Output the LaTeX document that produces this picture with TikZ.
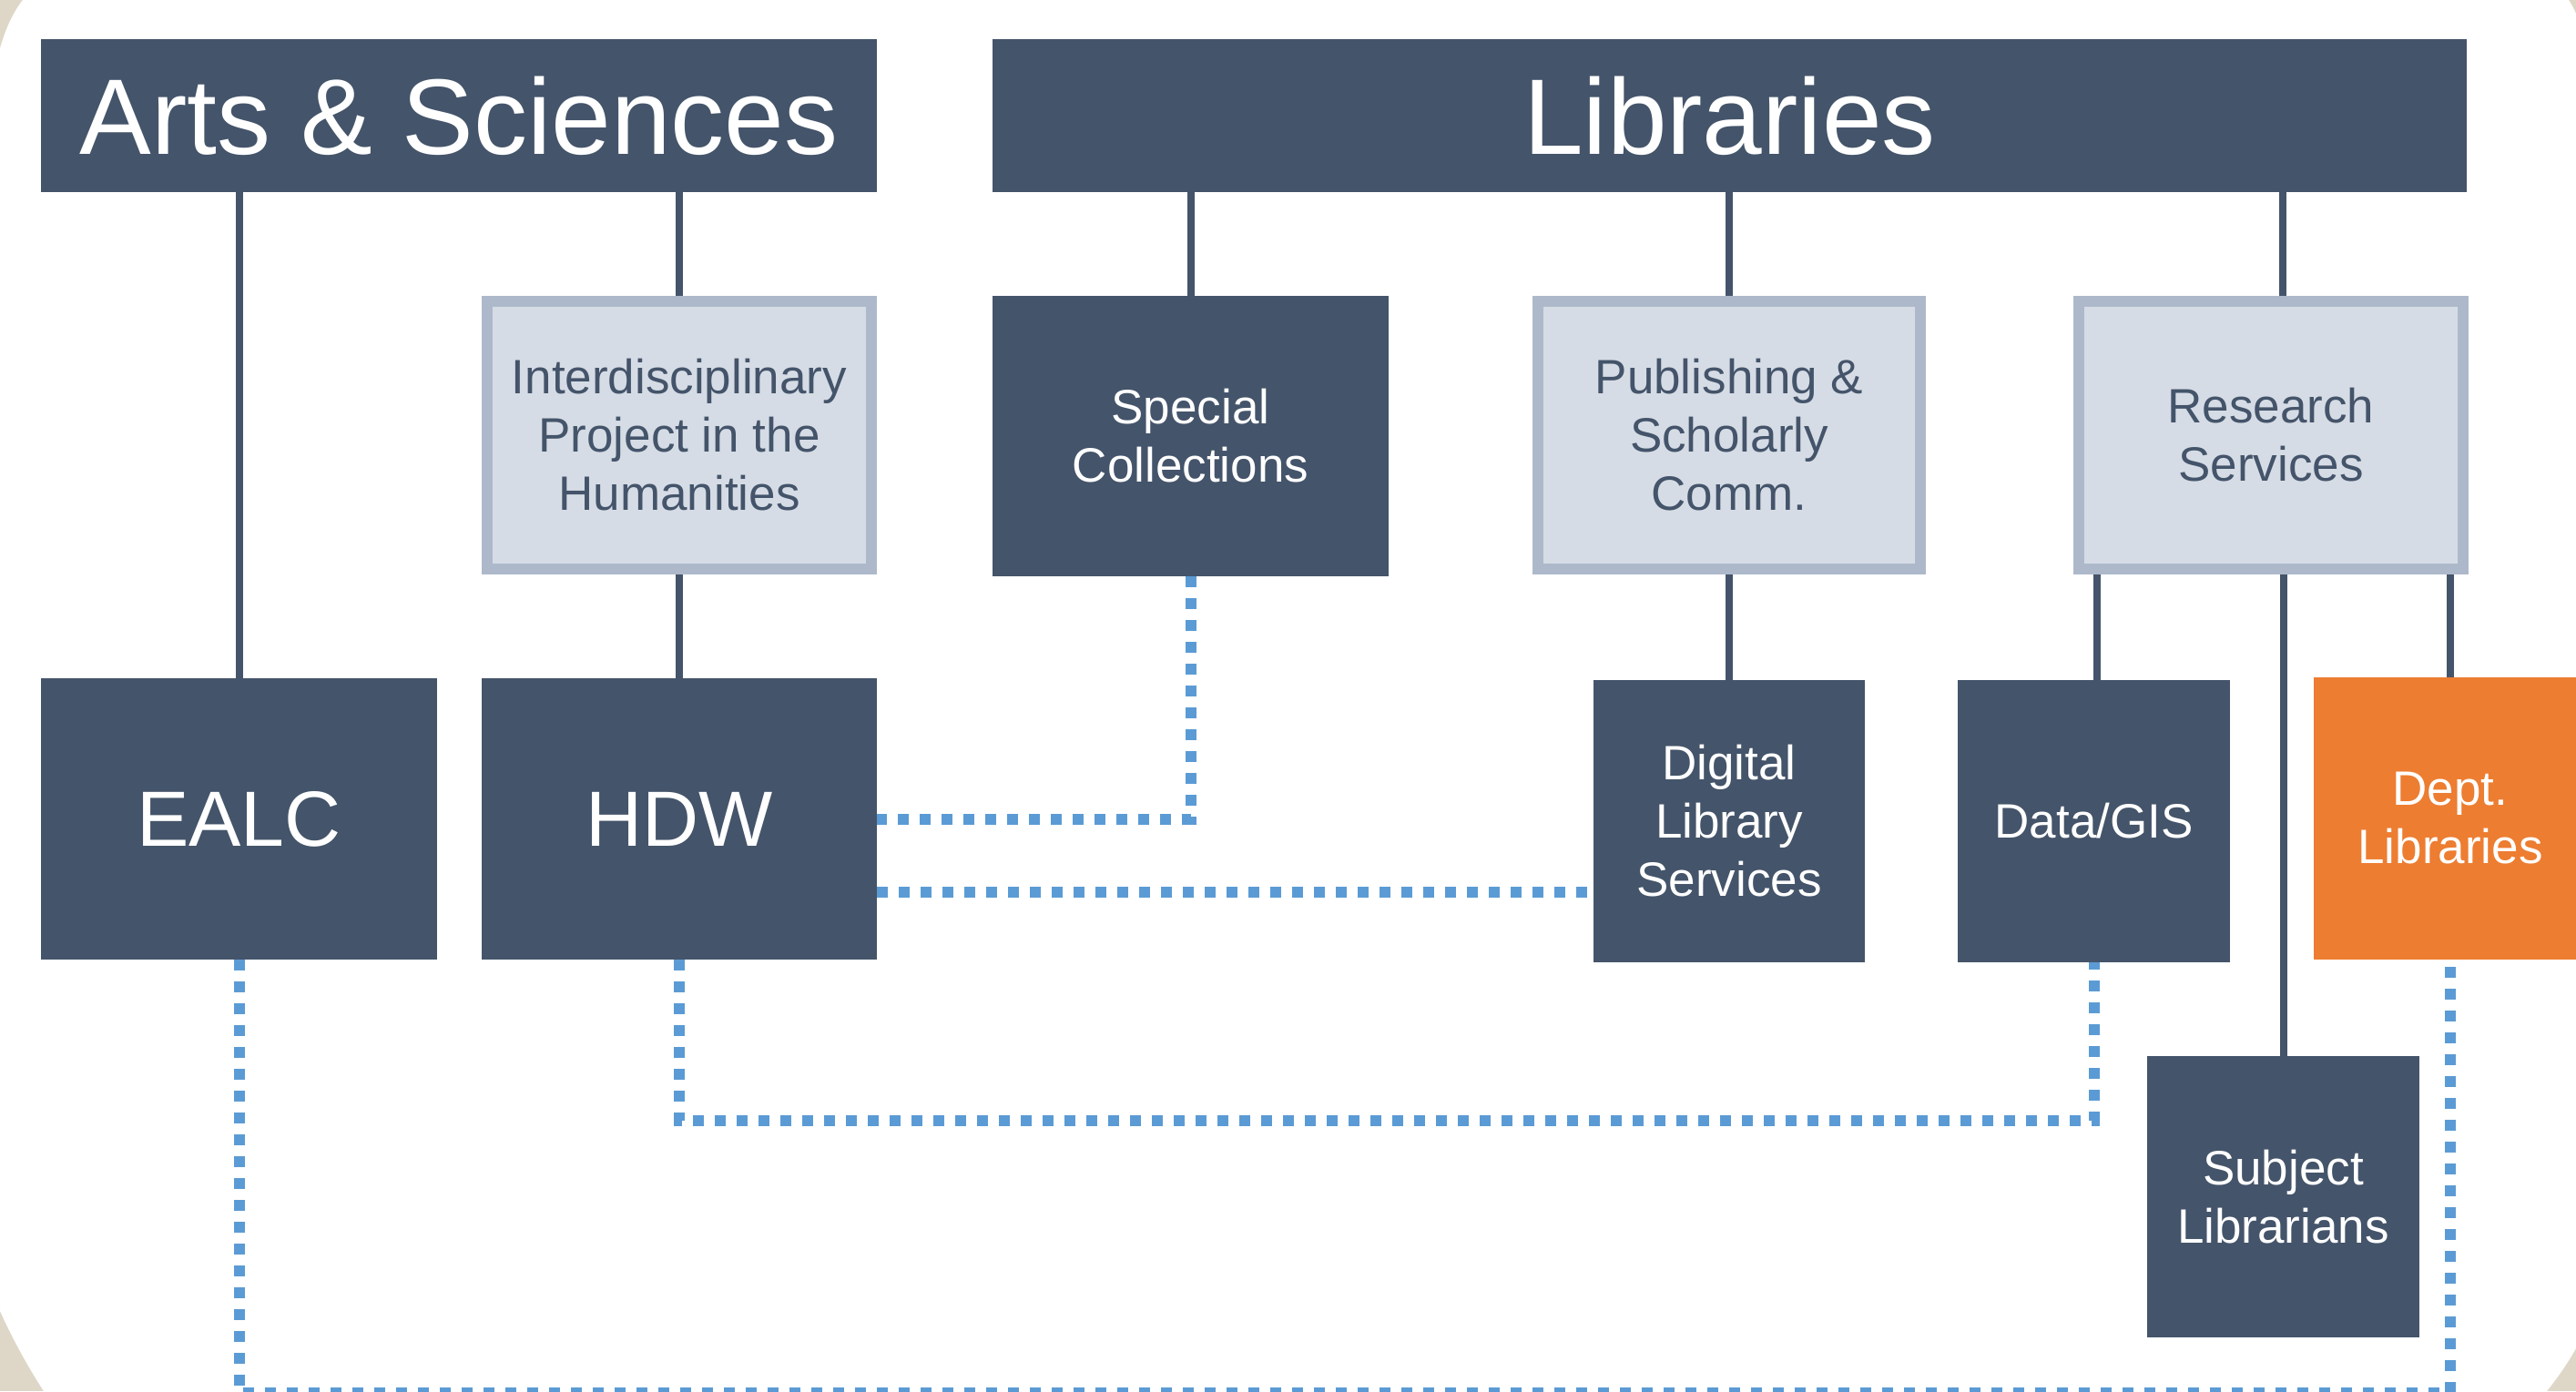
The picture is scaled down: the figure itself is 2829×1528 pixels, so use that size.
\documentclass[tikz,border=0pt]{standalone}
\usepackage{fontspec}
\setmainfont{Liberation Sans}
\usetikzlibrary{calc}
\pgfdeclarelayer{bg}
\pgfsetlayers{bg,main}
\definecolor{navy}{HTML}{44546A}
\definecolor{lightfill}{HTML}{D6DCE5}
\definecolor{lightedge}{HTML}{ADB9CA}
\definecolor{orng}{HTML}{ED7D31}
\definecolor{dotblue}{HTML}{5B9BD5}
\definecolor{beige}{HTML}{DED7C7}
\begin{document}
\begin{tikzpicture}[x=0.5pt,y=-0.5pt,
  darkbox/.style={fill=navy, text=white, inner sep=0pt, align=center},
  lightbox/.style={fill=lightfill, draw=lightedge, line width=6pt, text=navy, inner sep=0pt, align=center, minimum width=211pt, minimum height=147pt},
  orangebox/.style={fill=orng, text=white, inner sep=0pt, align=center},
  smalltxt/.style={font=\fontsize{26.5}{32}\selectfont},
  bigtxt/.style={font=\fontsize{59}{70}\selectfont},
  midtxt/.style={font=\fontsize{43}{50}\selectfont},
  tie/.style={draw=navy, line width=4pt},
  dotlink/.style={draw=dotblue, line width=6pt, dash pattern=on 6pt off 6pt},
]
\useasboundingbox (0,0) rectangle (2829,1528);
\clip (0,0) rectangle (2829,1528);
\begin{pgfonlayer}{bg}
  \fill[beige] (0,0) rectangle (2829,1528);
  \fill[white] (0,53) .. controls (6,32) and (14,14) .. (25,0) -- (2821,0)
    .. controls (2824,5) and (2827,10) .. (2829,15) -- (2829,1481)
    .. controls (2820,1497) and (2809,1513) .. (2797,1528) -- (48,1528)
    .. controls (30,1500) and (14,1471) .. (0,1440) -- cycle;
\end{pgfonlayer}

% top row
\node[darkbox, bigtxt, minimum width=459pt, minimum height=84pt] (as) at (504,127) {Arts \& Sciences};
\node[darkbox, bigtxt, minimum width=809.5pt, minimum height=84pt] (lib) at (1899.5,127) {Libraries};

% second row
\node[lightbox, smalltxt] (iph) at (746,478) {Interdisciplinary\\Project in the\\Humanities};
\node[darkbox, smalltxt, minimum width=217.5pt, minimum height=154pt] (sc) at (1307.5,479) {Special\\Collections};
\node[lightbox, smalltxt, minimum width=210pt] (pub) at (1899,478) {Publishing \&\\Scholarly\\Comm.};
\node[lightbox, smalltxt] (rs) at (2494,478) {Research\\Services};

% third row
\node[darkbox, midtxt, minimum width=217.5pt, minimum height=154.5pt] (ealc) at (262.5,899.5) {EALC};
\node[darkbox, midtxt, minimum width=217pt, minimum height=154.5pt] (hdw) at (746,899.5) {HDW};
\node[darkbox, smalltxt, minimum width=149pt, minimum height=155pt] (dls) at (1899,902) {Digital\\Library\\Services};
\node[darkbox, smalltxt, minimum width=149.5pt, minimum height=155pt] (dg) at (2299.5,902) {Data/GIS};
\node[orangebox, smalltxt, minimum width=150pt, minimum height=155pt] (dept) at (2691,899) {Dept.\\Libraries};
\node[darkbox, smalltxt, minimum width=149.5pt, minimum height=154.5pt] (sl) at (2507.5,1314.5) {Subject\\Librarians};

\begin{pgfonlayer}{bg}
  % solid ties
  \draw[tie] (as.south -| ealc.north) -- (ealc.north);
  \draw[tie] (as.south -| iph.north) -- (iph.north);
  \draw[tie] (iph.south) -- (hdw.north);
  \draw[tie] (lib.south -| sc.north) -- (sc.north);
  \draw[tie] (lib.south -| pub.north) -- (pub.north);
  \draw[tie] (lib.south -| 2507,0) -- (rs.north -| 2507,0);
  \draw[tie] (pub.south) -- (dls.north);
  \draw[tie] (rs.south -| 2303,0) -- (dg.north -| 2303,0);
  \draw[tie] (rs.south -| sl.north) -- (sl.north);
  \draw[tie] (rs.south -| dept.north) -- (dept.north);
  % dotted links
  \draw[dotlink] (sc.south) -- (sc.south |- 0,900) -- (hdw.east |- 0,900);
  \draw[dotlink] (hdw.east |- 0,980) -- (dls.west |- 0,980);
  \draw[dotlink] (hdw.south) -- (hdw.south |- 0,1231) -- (dg.south |- 0,1231) -- (dg.south);
  \draw[dotlink] (ealc.south) -- (ealc.south |- 0,1530) -- (dept.south |- 0,1530) -- (dept.south);
\end{pgfonlayer}
\end{tikzpicture}
\end{document}
